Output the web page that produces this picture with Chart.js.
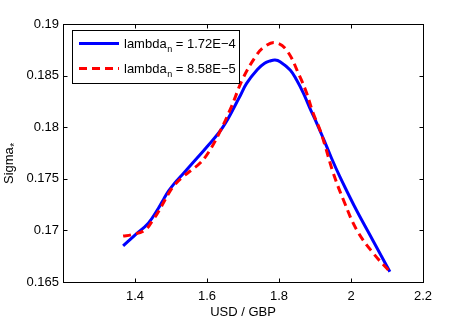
<!DOCTYPE html>
<html><head><meta charset="utf-8">
<style>html,body{margin:0;padding:0;background:#fff;}canvas{display:block;}</style>
<script src="https://cdn.jsdelivr.net/npm/chart.js@4/dist/chart.umd.min.js"></script>
</head><body>
<canvas id="c" width="467" height="318"></canvas>
<script>
// ---- data ----
const xBlue = [1.367, 1.40, 1.437, 1.465, 1.48, 1.493, 1.51, 1.53, 1.557, 1.60, 1.645, 1.69, 1.71, 1.74, 1.76, 1.775, 1.789, 1.803, 1.831, 1.849, 1.868, 1.886, 1.905, 1.923, 1.946, 1.969, 1.99, 2.016, 2.062, 2.108];
const yBlue = [0.1685, 0.16955, 0.1707, 0.17214, 0.17305, 0.1738, 0.17458, 0.17535, 0.1764, 0.1781, 0.18005, 0.1829, 0.18425, 0.1856, 0.1862, 0.18642, 0.18651, 0.18635, 0.18554, 0.18457, 0.18328, 0.18183, 0.18038, 0.17892, 0.17699, 0.1752, 0.1737, 0.1719, 0.16895, 0.1660];
const xRed = [1.367, 1.39, 1.428, 1.45, 1.465, 1.493, 1.51, 1.53, 1.557, 1.58, 1.604, 1.636, 1.668, 1.70, 1.738, 1.76, 1.789, 1.821, 1.858, 1.877, 1.895, 1.914, 1.928, 1.951, 1.979, 2.016, 2.062, 2.108];
const yRed = [0.16945, 0.16958, 0.17004, 0.17101, 0.17181, 0.17355, 0.1744, 0.1751, 0.17585, 0.1765, 0.17755, 0.17957, 0.1820, 0.18474, 0.187, 0.1878, 0.18819, 0.18748, 0.18489, 0.18328, 0.18135, 0.17973, 0.1782, 0.17553, 0.17295, 0.17004, 0.16778, 0.1660];
const seriesNames = ['lambda', 'lambda'];
const seriesSubs = ['n', 'n'];
const seriesValues = [' = 1.72E\u22124', ' = 8.58E\u22125'];
const xTickValues = [1.4, 1.6, 1.8, 2.0, 2.2];
const xTickLabels = ['1.4', '1.6', '1.8', '2', '2.2'];
const yTickValues = [0.165, 0.17, 0.175, 0.18, 0.185, 0.19];
const yTickLabels = ['0.165', '0.17', '0.175', '0.18', '0.185', '0.19'];
const xTitle = 'USD / GBP';
const yTitle = 'Sigma';
const yTitleSub = '*';

const FONT = '"Liberation Sans", Arial, Helvetica, sans-serif';
const blue = '#0000ff', red = '#ff0000';

const pts = (xs, ys) => xs.map((x, i) => ({x: x, y: ys[i]}));

const boxPlugin = {
  id: 'boxPlugin',
  afterDraw(chart) {
    const ctx = chart.ctx, a = chart.chartArea;
    const xs = chart.scales.x, ys = chart.scales.y;
    ctx.save();
    ctx.strokeStyle = '#000';
    ctx.lineWidth = 1;
    const L = Math.round(a.left) + 0.5, R = Math.round(a.right) + 0.5;
    const T = Math.round(a.top) + 0.5, B = Math.round(a.bottom) + 0.5;
    ctx.strokeRect(L, T, R - L, B - T);
    const tl = 4;
    ctx.beginPath();
    xTickValues.forEach(v => {
      const px = Math.round(xs.getPixelForValue(v)) + 0.5;
      ctx.moveTo(px, B); ctx.lineTo(px, B - tl);
      ctx.moveTo(px, T); ctx.lineTo(px, T + tl);
    });
    yTickValues.forEach(v => {
      const py = Math.round(ys.getPixelForValue(v)) + 0.5;
      ctx.moveTo(L, py); ctx.lineTo(L + tl, py);
      ctx.moveTo(R, py); ctx.lineTo(R - tl, py);
    });
    ctx.stroke();

    // legend
    const lx = 72.5, ly = 30.5, lw = 167, lh = 53;
    ctx.fillStyle = '#fff';
    ctx.fillRect(lx, ly, lw, lh);
    ctx.strokeRect(lx, ly, lw, lh);
    const rows = [{c: blue, dash: [], y: 43.5}, {c: red, dash: [8, 5], y: 68.5}];
    rows.forEach((r, i) => {
      ctx.save();
      ctx.strokeStyle = r.c; ctx.lineWidth = 3; ctx.setLineDash(r.dash);
      ctx.beginPath(); ctx.moveTo(79, r.y); ctx.lineTo(119, r.y); ctx.stroke();
      ctx.restore();
      ctx.fillStyle = '#000';
      ctx.textBaseline = 'alphabetic'; ctx.textAlign = 'left';
      let tx = 124; const by = r.y + 4;
      ctx.font = '13px ' + FONT;
      ctx.fillText(seriesNames[i], tx, by);
      tx += ctx.measureText(seriesNames[i]).width;
      ctx.font = '9px ' + FONT;
      ctx.fillText(seriesSubs[i], tx + 0.5, by + 4);
      tx += ctx.measureText(seriesSubs[i]).width + 0.5;
      ctx.font = '13px ' + FONT;
      ctx.fillText(seriesValues[i], tx, by);
    });

    // axis titles
    ctx.fillStyle = '#000';
    ctx.font = '13px ' + FONT;
    ctx.textAlign = 'center'; ctx.textBaseline = 'alphabetic';
    ctx.fillText(xTitle, (a.left + a.right) / 2, 316);
    ctx.save();
    ctx.translate(13, 184);
    ctx.rotate(-Math.PI / 2);
    ctx.textAlign = 'left';
    ctx.fillText(yTitle, 0, 0);
    const w = ctx.measureText(yTitle).width;
    ctx.font = '10px ' + FONT;
    ctx.fillText(yTitleSub, w + 0.5, 5);
    ctx.restore();
    ctx.restore();
  }
};

new Chart(document.getElementById('c'), {
  type: 'line',
  data: {
    datasets: [
      {label: 'blue', data: pts(xBlue, yBlue), borderColor: blue, borderWidth: 3, pointRadius: 0, fill: false, tension: 0.4, order: 2},
      {label: 'red', data: pts(xRed, yRed), borderColor: red, borderWidth: 3, borderDash: [8, 5], pointRadius: 0, fill: false, tension: 0.4, order: 1}
    ]
  },
  options: {
    responsive: false, animation: false, devicePixelRatio: 1,
    layout: {padding: {top: 24, right: 44, left: 0, bottom: 0}},
    plugins: {legend: {display: false}, tooltip: {enabled: false}},
    scales: {
      x: {
        type: 'linear', min: 1.2, max: 2.2,
        afterFit(s) { s.height = 36; },
        afterBuildTicks(s) { s.ticks = xTickValues.map(v => ({value: v})); },
        grid: {display: false, drawTicks: false}, border: {display: false},
        ticks: {padding: 7, color: '#000', font: {size: 13, family: FONT}, maxRotation: 0,
          callback: (v, i) => xTickLabels[i]}
      },
      y: {
        type: 'linear', min: 0.165, max: 0.19,
        afterFit(s) { s.width = 63; },
        afterBuildTicks(s) { s.ticks = yTickValues.map(v => ({value: v})); },
        grid: {display: false, drawTicks: false}, border: {display: false},
        ticks: {padding: 4, color: '#000', font: {size: 13, family: FONT},
          callback: (v, i) => yTickLabels[i]}
      }
    }
  },
  plugins: [boxPlugin]
});
</script>
</body></html>
